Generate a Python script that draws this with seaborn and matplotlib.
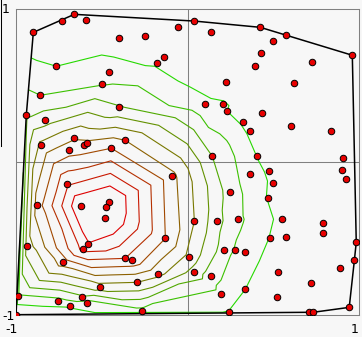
import numpy as np
import matplotlib
matplotlib.use("Agg")
import matplotlib.pyplot as plt
import matplotlib.tri as mtri
from matplotlib.transforms import ScaledTranslation
from matplotlib.lines import Line2D
import pandas as pd
import seaborn as sns

# ---- data ----
x_vals = [-0.660, -0.730, -0.590, -0.899, -0.398, -0.246, -0.054, -0.765, -0.176, -0.135,
          -0.456, -0.497, -0.858, -0.940, -0.829, -0.398, -0.660, -0.852, -0.602, -0.584,
          -0.689, -0.444, -0.363, 0.040, 0.139, 0.424, 0.576, 0.500, 0.961, 0.430,
          0.728, 0.395, 0.226, 0.623, 0.104, 0.209, 0.232, 0.436, 0.325, 0.605,
          0.366, 0.838, 0.145, 0.407, 0.908, 0.903, 0.477, -0.089, 0.366, 0.926,
          0.500, 0.250, 0.471, 0.040, 0.174, 0.296, 0.553, 0.792, 0.792, 0.483,
          0.576, 0.984, 0.215, 0.279, 0.337, 0.010, 0.973, 0.891, 0.040, 0.139,
          0.529, 0.722, 0.197, 0.337, 0.524, 0.943, 0.244, 0.710, 0.734, -0.701,
          -0.456, -0.473, -0.619, -0.876, -0.479, -0.129, -0.578, -0.608, -0.934, -0.724,
          -0.363, -0.322, -0.170, -0.293, -0.508, -0.987, -0.613, -0.753, -0.584, -0.683,
          -0.264, -1.000]
y_vals = [0.967, 0.921, 0.928, 0.849, 0.810, 0.823, 0.882, 0.627, 0.646, 0.686,
          0.587, 0.509, 0.437, 0.306, 0.273, 0.358, 0.155, 0.109, 0.109, 0.122,
          0.077, 0.090, 0.142, 0.923, 0.849, 0.882, 0.830, 0.790, 0.699, 0.712,
          0.653, 0.627, 0.522, 0.515, 0.378, 0.378, 0.332, 0.319, 0.260, 0.234,
          0.201, 0.201, 0.037, 0.037, 0.024, -0.054, -0.061, -0.094, -0.081, -0.113,
          -0.139, -0.198, -0.238, -0.388, -0.388, -0.375, -0.375, -0.401, -0.467, -0.500,
          -0.493, -0.526, -0.578, -0.578, -0.591, -0.624, -0.644, -0.696, -0.722, -0.749,
          -0.722, -0.794, -0.866, -0.834, -0.886, -0.952, -0.984, -0.984, -0.984, -0.146,
          -0.264, -0.297, -0.290, -0.284, -0.369, -0.500, -0.539, -0.572, -0.552, -0.657,
          -0.631, -0.644, -0.735, -0.788, -0.821, -0.880, -0.886, -0.912, -0.925, -0.945,
          -0.978, -1.000]
z_vals = [0.0, 0.1, 0.1, 0.2, 0.45, 0.3, 0.0, 1.0, 0.85, 0.65,
          1.45, 1.95, 2.0, 2.8, 3.6, 3.1, 5.9, 5.3, 6.4, 6.25,
          6.6, 7.0, 6.0, -0.3, -0.25, -0.7, -0.85, -0.65, -1.4, -0.4,
          -0.8, -0.15, 0.45, -0.4, 1.2, 1.1, 1.0, 0.4, 0.85, 0.1,
          0.8, -0.5, 3.0, 0.97, -0.4, -0.45, 0.85, 6.3, 1.45, -0.5,
          0.85, 2.5, 0.95, 5.0, 3.3, 2.2, 0.7, -0.1, -0.1, 0.95,
          0.7, -0.5, 2.5, 1.9, 1.6, 4.7, -0.5, -0.4, 3.6, 2.4,
          0.2, -0.2, 1.6, 1.0, 0.3, -0.6, 0.95, -0.1, -0.1, 8.9,
          11.3, 11.3, 11.0, 6.5, 11.3, 7.0, 9.9, 9.3, 4.5, 6.5,
          8.0, 7.7, 5.3, 5.0, 4.5, 1.8, 2.8, 1.6, 1.5, 1.1,
          1.6, 0.0]
contour_levels = [1, 2, 3, 4, 5, 6, 7, 8, 9, 10]
tick_values = [-1, 1]
tick_labels = ["-1", "1"]

df = pd.DataFrame({"x": x_vals, "y": y_vals, "z": z_vals})

BG = "#f7f7f7"
GREY = "#808080"

plt.rcParams["font.family"] = ["DejaVu Sans"]
fig = plt.figure(figsize=(3.62, 3.37), dpi=100, facecolor=BG)
W, H = 362, 337
ax = fig.add_axes([16 / W, 1 - 314.7 / H, 343 / W, 305.4 / H])
ax.set_facecolor(BG)
ax.set_xlim(-1, 1)
ax.set_ylim(-1, 1)

for sp in ax.spines.values():
    sp.set_color(GREY)
    sp.set_linewidth(0.75)

ax.axhline(0, color=GREY, lw=0.75, zorder=1)
ax.axvline(0, color=GREY, lw=0.75, zorder=1)

# contour lines from the interpolated point values
tri = mtri.Triangulation(df["x"], df["y"])
n = len(contour_levels)
c_out = np.array([0.15, 0.85, 0.0])
c_in = np.array([0.87, 0.0, 0.0])
line_colors = [tuple(c_out + (c_in - c_out) * i / (n - 1)) for i in range(n)]
ax.tricontour(tri, df["z"], levels=contour_levels, colors=line_colors,
              linewidths=0.8, zorder=2)

# convex hull (monotone chain)
pts = sorted(set(zip(df["x"], df["y"])))
def cross(o, a, b):
    return (a[0] - o[0]) * (b[1] - o[1]) - (a[1] - o[1]) * (b[0] - o[0])
lower, upper = [], []
for p in pts:
    while len(lower) >= 2 and cross(lower[-2], lower[-1], p) <= 0:
        lower.pop()
    lower.append(p)
for p in reversed(pts):
    while len(upper) >= 2 and cross(upper[-2], upper[-1], p) <= 0:
        upper.pop()
    upper.append(p)
hull = lower[:-1] + upper[:-1] + [lower[0]]
hull_df = pd.DataFrame(hull, columns=["x", "y"])
ax.plot(hull_df["x"], hull_df["y"], color="black", lw=1.1, zorder=3)

sns.scatterplot(data=df, x="x", y="y", color="#e80000", edgecolor="black",
                linewidth=0.7, s=22, zorder=4, ax=ax, legend=False)
ax.set_xlabel("")
ax.set_ylabel("")

ax.set_xticks(tick_values, labels=tick_labels)
ax.set_yticks(tick_values, labels=tick_labels)
ax.tick_params(axis="both", length=0, labelsize=9, colors="black")
ax.tick_params(axis="x", pad=6)
ax.tick_params(axis="y", pad=10)
for lab in ax.get_yticklabels():
    lab.set_horizontalalignment("left")
for lab in ax.get_xticklabels():
    lab.set_transform(lab.get_transform() + ScaledTranslation(-4 / 100, 0, fig.dpi_scale_trans))
ylabs = ax.get_yticklabels()
ylabs[1].set_transform(ylabs[1].get_transform() + ScaledTranslation(0, 1 / 100, fig.dpi_scale_trans))

fig.add_artist(Line2D([0.6 / W, 0.6 / W], [1, 1 - 146 / H], color="black",
                      lw=0.75, transform=fig.transFigure))

fig.savefig("out.png", dpi=100, facecolor=BG)
